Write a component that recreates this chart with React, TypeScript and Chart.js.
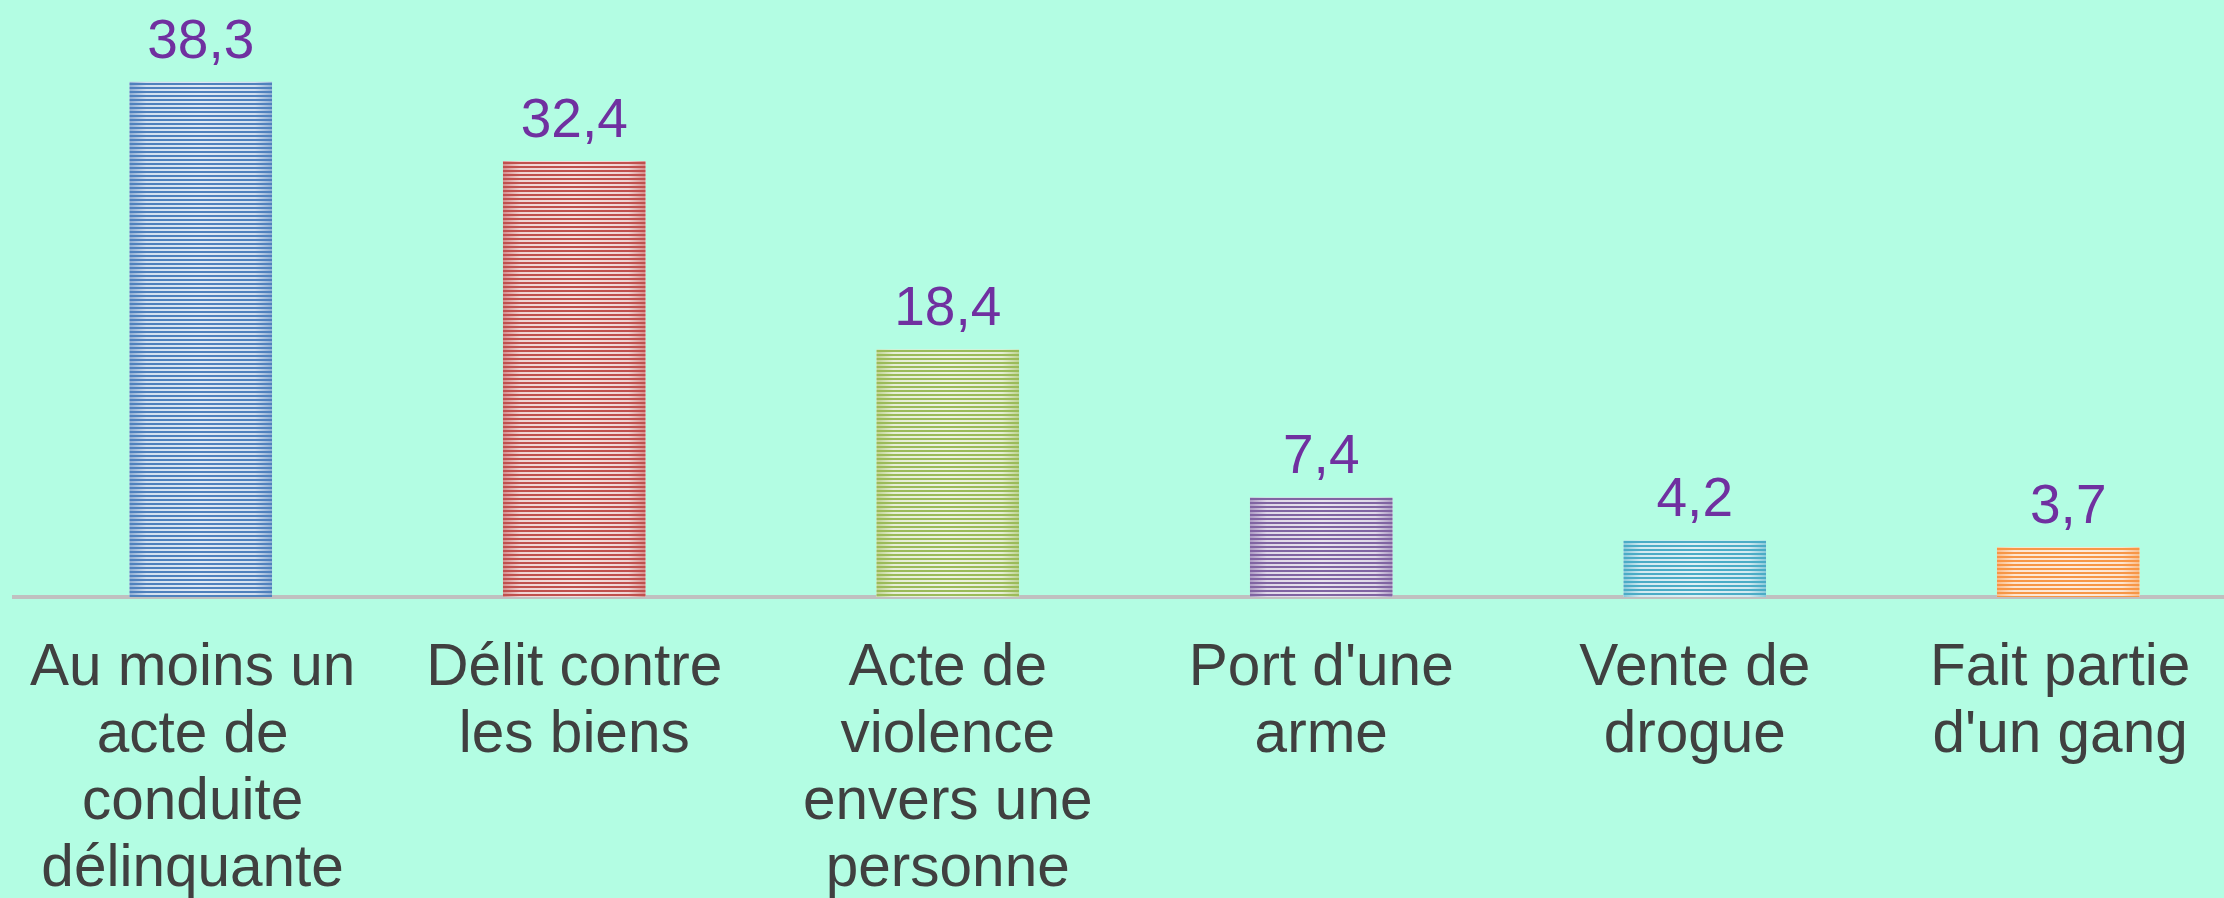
import React, { useEffect, useRef } from "react";
import { Chart, registerables } from "chart.js";

Chart.register(...registerables);

const categories: string[][] = [
  ["Au moins un ", "acte de ", "conduite ", "délinquante "],
  ["Délit contre", "les biens"],
  ["Acte de", "violence", "envers une", "personne"],
  ["Port d'une", "arme"],
  ["Vente de", "drogue"],
  ["Fait partie ", "d'un gang "],
];
const values: number[] = [38.3, 32.4, 18.4, 7.4, 4.2, 3.7];
const barColors: string[] = ["#4f81bd", "#c0504d", "#9bbb59", "#8064a2", "#4bacc6", "#f79646"];

const BG = "#b3fde3";
const FONT = "'Liberation Sans', Arial, sans-serif";

function hexToRgb(h: string): [number, number, number] {
  const n = parseInt(h.slice(1), 16);
  return [(n >> 16) & 255, (n >> 8) & 255, n & 255];
}
function mix(h: string, t: number): string {
  const [r, g, b] = hexToRgb(h);
  const m = (c: number) => Math.round(c + (255 - c) * t);
  return `rgb(${m(r)},${m(g)},${m(b)})`;
}

const stripePlugin = {
  id: "stripes",
  afterDatasetsDraw(chart: any) {
    const ctx = chart.ctx;
    const meta = chart.getDatasetMeta(0);
    meta.data.forEach((bar: any, i: number) => {
      const color = barColors[i];
      const left = bar.x - bar.width / 2;
      const w = bar.width;
      const top = bar.y;
      const bottom = bar.base;
      ctx.save();
      ctx.beginPath();
      ctx.rect(left, top, w, bottom - top);
      ctx.clip();
      const g = ctx.createLinearGradient(left, 0, left + w, 0);
      g.addColorStop(0, mix(color, 0.35));
      g.addColorStop(0.12, mix(color, 0.75));
      g.addColorStop(0.5, mix(color, 0.82));
      g.addColorStop(0.88, mix(color, 0.75));
      g.addColorStop(1, mix(color, 0.35));
      ctx.fillStyle = g;
      ctx.fillRect(left, top, w, bottom - top);
      ctx.fillStyle = color;
      for (let yy = Math.round(top) + 1; yy < bottom; yy += 4) {
        ctx.fillRect(left, yy, w, 2);
      }
      ctx.restore();
      // value label
      ctx.save();
      ctx.fillStyle = "#7030a0";
      ctx.font = `55px ${FONT}`;
      ctx.textAlign = "center";
      ctx.textBaseline = "alphabetic";
      ctx.fillText(String(values[i]).replace(".", ","), bar.x, top - 24);
      ctx.restore();
    });
  },
};

export default function App() {
  const ref = useRef<HTMLCanvasElement>(null);
  useEffect(() => {
    if (!ref.current) return;
    const chart = new Chart(ref.current, {
      type: "bar",
      data: {
        labels: categories,
        datasets: [
          {
            data: values,
            backgroundColor: barColors.map((c) => mix(c, 0.7)),
            borderWidth: 0,
            categoryPercentage: 1,
            barPercentage: 0.382,
          },
        ],
      },
      options: {
        animation: false,
        responsive: false,
        devicePixelRatio: 1,
        layout: { padding: { top: 5, left: 14, right: 0, bottom: 0 } },
        plugins: { legend: { display: false }, tooltip: { enabled: false } },
        scales: {
          x: {
            z: 1,
            grid: { display: false, drawTicks: false },
            border: { display: true, color: "#c0c0c0", width: 4 },
            ticks: {
              color: "#404040",
              padding: 38,
              maxRotation: 0,
              autoSkip: false,
              font: { family: FONT, size: 58.5, lineHeight: "67px" as any },
            },
            afterFit: (scale: any) => {
              scale.height = 898 - 597;
              scale.paddingLeft = 0;
              scale.paddingRight = 0;
            },
          },
          y: { display: false, min: 0, max: 44 },
        },
      },
      plugins: [stripePlugin],
    });
    return () => chart.destroy();
  }, []);
  return (
    <div
      style={{
        position: "fixed",
        left: 0,
        top: 0,
        width: 2224,
        height: 898,
        overflow: "hidden",
        background: BG,
      }}
    >
      <canvas ref={ref} width={2255} height={898} style={{ display: "block", width: 2255, height: 898 }} />
    </div>
  );
}
